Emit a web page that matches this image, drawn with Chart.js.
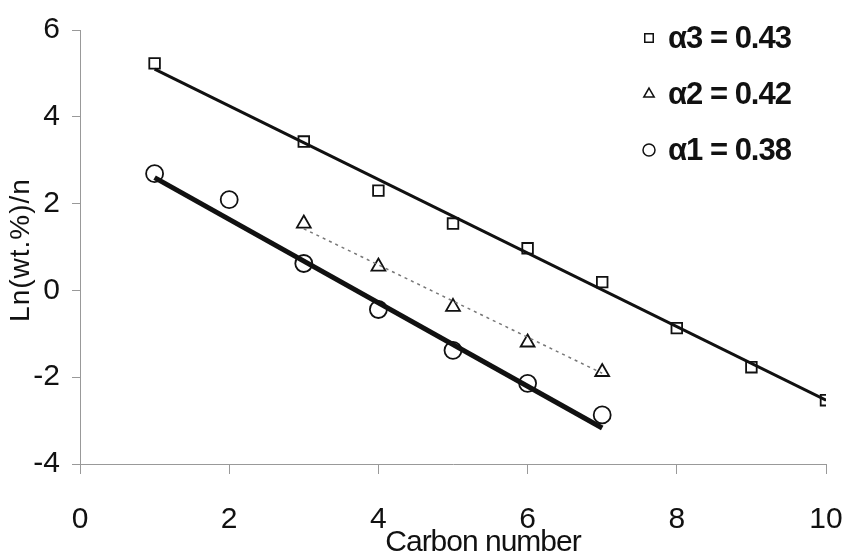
<!DOCTYPE html>
<html>
<head>
<meta charset="utf-8">
<script src="https://cdn.jsdelivr.net/npm/chart.js@4.4.0/dist/chart.umd.min.js"></script>
<style>
  html, body { margin: 0; padding: 0; background: #fff; }
  #wrap { width: 847px; height: 559px; position: relative; }
</style>
</head>
<body>
<div id="wrap"><canvas id="chart"></canvas></div>
<script>
// carbon numbers and Ln(wt%)/n values
const xSquares = [1, 3, 4, 5, 6, 7, 8, 9, 10];
const ySquares = [5.23, 3.43, 2.30, 1.54, 0.97, 0.19, -0.87, -1.77, -2.53];
const xTriangles = [3, 4, 5, 6, 7];
const yTriangles = [1.54, 0.55, -0.38, -1.20, -1.88];
const xCircles = [1, 2, 3, 4, 5, 6, 7];
const yCircles = [2.69, 2.09, 0.62, -0.44, -1.38, -2.14, -2.87];

// fitted lines (end points)
const fit3X = [1, 10], fit3Y = [5.10, -2.53];
const fit2X = [3, 7], fit2Y = [1.42, -1.91];
const fit1X = [1, 7], fit1Y = [2.60, -3.17];

const legendLabels = ["α3 = 0.43", "α2 = 0.42", "α1 = 0.38"];
const xTicks = [0, 2, 4, 6, 8, 10];
const yTicks = [-4, -2, 0, 2, 4, 6];

const pts = (xs, ys) => xs.map((x, i) => ({ x: x, y: ys[i] }));
const FONT = "'Liberation Sans', Arial, sans-serif";

// axis titles and legend drawn by hand so they sit where the scan has them
const extras = {
  id: "extras",
  afterDraw(chart) {
    const ctx = chart.ctx;
    ctx.save();
    ctx.fillStyle = "#111";
    ctx.textAlign = "center";
    ctx.textBaseline = "middle";

    ctx.font = "30px " + FONT;
    ctx.letterSpacing = "-1px";
    ctx.fillText("Carbon number", 483, 543);

    ctx.save();
    ctx.translate(21, 250);
    ctx.rotate(-Math.PI / 2);
    ctx.font = "28px " + FONT;
    ctx.letterSpacing = "1px";
    ctx.fillText("Ln(wt.%)/n", 0, 0);
    ctx.restore();

    const styles = [
      { style: "rect", radius: 6 },
      { style: "triangle", radius: 6 },
      { style: "circle", radius: 6 },
    ];
    const rows = [38, 94, 150];
    ctx.font = "bold 31px " + FONT;
    ctx.letterSpacing = "-1px";
    ctx.textAlign = "left";
    legendLabels.forEach((t, i) => {
      ctx.strokeStyle = "#111";
      ctx.fillStyle = "#fff";
      ctx.lineWidth = 1.5;
      Chart.helpers.drawPoint(ctx, { pointStyle: styles[i].style, radius: styles[i].radius, rotation: 0, borderWidth: 1.5 }, 649, rows[i]);
      ctx.fillStyle = "#111";
      ctx.fillText(t, 668, rows[i] + 1);
    });
    ctx.restore();
  },
};

new Chart(document.getElementById("chart"), {
  type: "scatter",
  data: {
    datasets: [
      {
        label: "fit3",
        data: pts(fit3X, fit3Y),
        showLine: true,
        borderColor: "#111",
        borderWidth: 3,
        pointRadius: 0,
      },
      {
        label: "fit2",
        data: pts(fit2X, fit2Y),
        showLine: true,
        borderColor: "#777",
        borderWidth: 1.5,
        borderDash: [3, 4],
        pointRadius: 0,
      },
      {
        label: "fit1",
        data: pts(fit1X, fit1Y),
        showLine: true,
        borderColor: "#111",
        borderWidth: 5,
        pointRadius: 0,
      },
      {
        label: legendLabels[0],
        data: pts(xSquares, ySquares),
        pointStyle: "rect",
        pointRadius: 7.5,
        borderColor: "#111",
        backgroundColor: "rgba(255,255,255,0)",
        borderWidth: 1.8,
      },
      {
        label: legendLabels[1],
        data: pts(xTriangles, yTriangles),
        pointStyle: "triangle",
        pointRadius: 8,
        borderColor: "#111",
        backgroundColor: "rgba(255,255,255,0)",
        borderWidth: 1.8,
      },
      {
        label: legendLabels[2],
        data: pts(xCircles, yCircles),
        pointStyle: "circle",
        pointRadius: 8.5,
        borderColor: "#111",
        backgroundColor: "rgba(255,255,255,0)",
        borderWidth: 1.8,
      },
    ],
  },
  options: {
    responsive: true,
    maintainAspectRatio: false,
    animation: false,
    layout: { padding: { left: 0, right: 0, top: 29, bottom: 0 } },
    plugins: { legend: { display: false }, tooltip: { enabled: false } },
    scales: {
      x: {
        type: "linear",
        min: 0,
        max: 10,
        afterBuildTicks: (s) => { s.ticks = xTicks.map((v) => ({ value: v })); },
        afterFit: (s) => { s.height = 95; s.paddingRight = 21; },
        grid: { drawOnChartArea: false, drawTicks: true, tickLength: 10, color: "#999", lineWidth: 1 },
        border: { display: true, color: "#999", width: 1 },
        ticks: { color: "#111", padding: 28, font: { family: FONT, size: 30 } },
      },
      y: {
        type: "linear",
        min: -4,
        max: 6,
        afterBuildTicks: (s) => { s.ticks = yTicks.map((v) => ({ value: v })); },
        afterFit: (s) => { s.width = 80; },
        grid: { drawOnChartArea: false, drawTicks: true, tickLength: 8, color: "#999", lineWidth: 1 },
        border: { display: true, color: "#999", width: 1 },
        ticks: { color: "#111", padding: 12, font: { family: FONT, size: 30 } },
      },
    },
  },
  plugins: [extras],
});
</script>
</body>
</html>
